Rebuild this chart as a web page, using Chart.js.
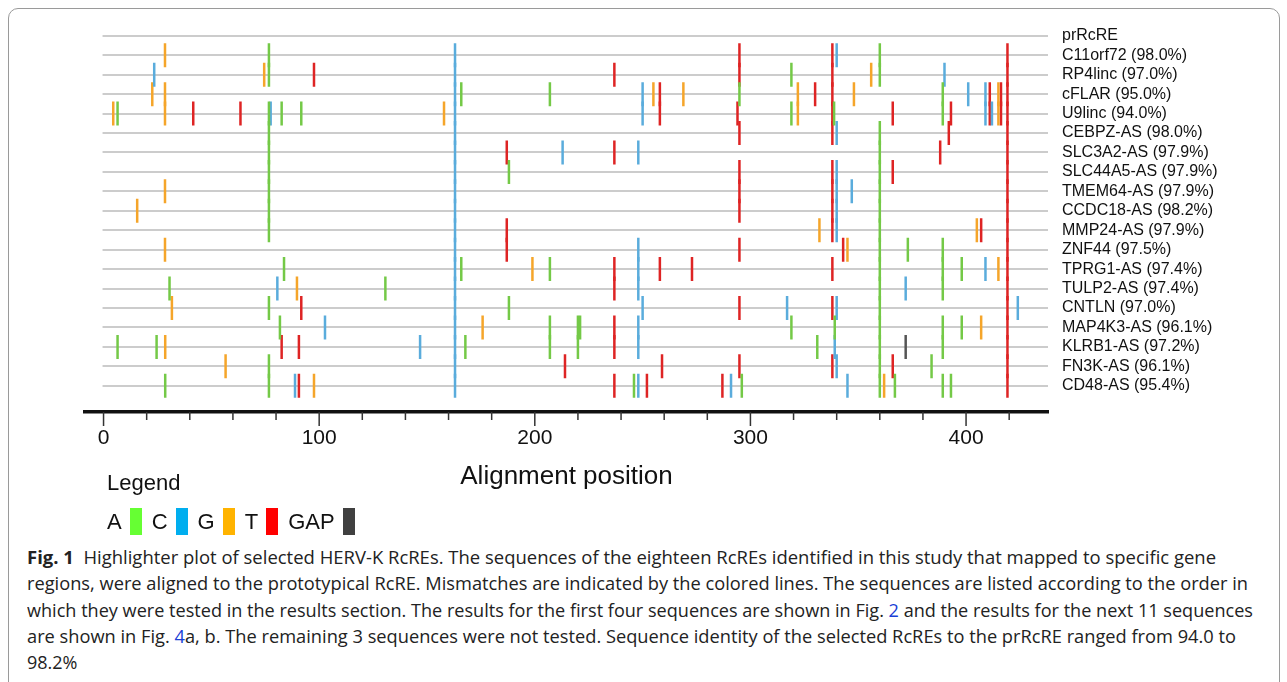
<!DOCTYPE html>
<html>
<head>
<meta charset="utf-8">
<script src="https://cdn.jsdelivr.net/npm/chart.js@4.4.1/dist/chart.umd.min.js"></script>
<style>
  body { margin: 0; background: #fff; width: 1287px; height: 682px; overflow: hidden; position: relative; }
  #frame { position: absolute; left: 8px; top: 8px; width: 1270px; height: 720px; border: 1px solid #9a9a9a; border-radius: 10px; }
  #wrap { position: absolute; left: 0; top: 0; width: 1287px; height: 492px; }
  #legend { position: absolute; left: 107px; top: 470px; font-family: "Liberation Sans", Arial, sans-serif; color: #111; }
  #legend .title { font-size: 22px; height: 30px; }
  #legend .row { display: flex; align-items: center; font-size: 22px; margin-top: 8px; }
  #legend .sw { display: inline-block; width: 12px; height: 27px; margin: 0 10px 0 8px; }
  #caption { position: absolute; left: 27px; top: 544px; font-family: "Open Sans", "Noto Sans", sans-serif; font-size: 18px; color: #222; }
  #caption div { white-space: nowrap; line-height: 26.3px; transform-origin: 0 50%; width: max-content; }
  #caption a { color: #1a3fd6; text-decoration: none; }
</style>
</head>
<body>
<div id="frame"></div>
<div id="wrap"><canvas id="chart" width="1287" height="492"></canvas></div>
<div id="legend">
  <div class="title">Legend</div>
  <div class="row">
    A<span class="sw" style="background:#66ff33"></span>
    C<span class="sw" style="background:#00aeef"></span>
    G<span class="sw" style="background:#ffb300"></span>
    T<span class="sw" style="background:#ff0000"></span>
    GAP<span class="sw" style="background:#404040"></span>
  </div>
</div>
<div id="caption">
  <div data-w="1189"><b>Fig. 1</b>&nbsp;&nbsp;Highlighter plot of selected HERV-K RcREs. The sequences of the eighteen RcREs identified in this study that mapped to specific gene</div>
  <div data-w="1221">regions, were aligned to the prototypical RcRE. Mismatches are indicated by the colored lines. The sequences are listed according to the order in</div>
  <div data-w="1226">which they were tested in the results section. The results for the first four sequences are shown in Fig. <a>2</a> and the results for the next 11 sequences</div>
  <div data-w="1209">are shown in Fig. <a>4</a>a, b. The remaining 3 sequences were not tested. Sequence identity of the selected RcREs to the prRcRE ranged from 94.0 to</div>
  <div>98.2%</div>
</div>
<script>
// sequences, top to bottom (row index = position in this list)
const rowLabels = [
  'prRcRE', 'C11orf72 (98.0%)', 'RP4linc (97.0%)', 'cFLAR (95.0%)', 'U9linc (94.0%)',
  'CEBPZ-AS (98.0%)', 'SLC3A2-AS (97.9%)', 'SLC44A5-AS (97.9%)', 'TMEM64-AS (97.9%)',
  'CCDC18-AS (98.2%)', 'MMP24-AS (97.9%)', 'ZNF44 (97.5%)', 'TPRG1-AS (97.4%)',
  'TULP2-AS (97.4%)', 'CNTLN (97.0%)', 'MAP4K3-AS (96.1%)', 'KLRB1-AS (97.2%)',
  'FN3K-AS (96.1%)', 'CD48-AS (95.4%)'
];

const xTicks = [0, 20, 40, 60, 80, 100, 120, 140, 160, 180, 200, 220, 240, 260, 280, 300, 320, 340, 360, 380, 400, 420];

// mismatches: [alignment position, first row, last row]
const mismatchA = [
  [76.7, 1, 2], [76.7, 4, 10], [6.5, 4, 4], [82.6, 4, 4], [91.7, 4, 4], [165.9, 3, 3], [207, 3, 3],
  [188, 7, 7], [294.9, 3, 3], [319, 2, 2], [319, 4, 4], [338.8, 4, 4], [360, 1, 2], [360, 5, 18],
  [389.2, 3, 4], [83.7, 12, 12], [30.6, 13, 13], [76.7, 14, 14], [81.8, 15, 15], [6.5, 16, 16],
  [24.6, 16, 16], [76.7, 17, 18], [28.6, 18, 18], [165.9, 12, 12], [207, 12, 12], [130.7, 13, 13],
  [188, 14, 14], [207, 15, 16], [167.8, 16, 16], [220, 15, 16], [221, 15, 15], [319, 15, 15],
  [246, 18, 18], [296, 18, 18], [373, 11, 11], [389.2, 11, 13], [389.2, 15, 16], [398, 12, 12],
  [339.1, 15, 15], [398, 15, 15], [331, 16, 16], [384, 17, 17], [367, 18, 18], [389.2, 18, 18],
  [393, 18, 18]
];
const mismatchC = [
  [23.5, 2, 2], [77.5, 4, 4], [163, 1, 18], [212.9, 6, 6], [250, 3, 4], [248, 6, 6], [248, 11, 13],
  [250, 14, 14], [248, 15, 16], [248, 18, 18], [317, 14, 14], [291, 18, 18], [340, 1, 1], [340, 5, 5],
  [340, 7, 10], [340, 14, 14], [339.1, 16, 16], [340, 17, 17], [347, 8, 8], [390, 2, 2], [401, 3, 3],
  [409, 3, 4], [412, 4, 4], [409, 12, 12], [372, 13, 13], [424, 14, 14], [345, 18, 18], [80.6, 13, 13],
  [102.7, 15, 15], [88.8, 18, 18], [146.8, 16, 16]
];
const mismatchG = [
  [28.5, 1, 1], [74.5, 2, 2], [22.6, 3, 3], [28.5, 3, 4], [4.5, 4, 4], [28.5, 8, 8], [15.6, 9, 9],
  [157.9, 4, 4], [255, 3, 3], [268.9, 3, 3], [322, 3, 4], [348, 3, 3], [356, 2, 2], [415, 3, 4],
  [28.5, 11, 11], [31.7, 14, 14], [89.7, 13, 13], [28.6, 16, 16], [56.6, 17, 17], [97.6, 18, 18],
  [198.9, 12, 12], [175.8, 15, 15], [332, 10, 10], [405, 10, 10], [345, 11, 11], [415, 12, 12],
  [407, 15, 15], [362, 18, 18]
];
const mismatchT = [
  [97.6, 2, 2], [41.6, 4, 4], [63.5, 4, 4], [187, 6, 6], [236.9, 2, 2], [258, 3, 4], [294.9, 1, 2],
  [294, 4, 4], [294.9, 5, 5], [294.9, 7, 9], [294.9, 11, 11], [294.9, 14, 14], [294.9, 17, 17],
  [338, 1, 5], [338, 7, 10], [338, 12, 12], [338, 14, 14], [338, 17, 17], [330, 3, 3], [366, 4, 4],
  [366, 7, 7], [393, 4, 4], [392, 5, 5], [388, 6, 6], [411, 3, 4], [416.2, 3, 4], [419.2, 1, 18],
  [236.9, 6, 6], [91.7, 14, 14], [82.6, 16, 16], [90.6, 16, 16], [90.6, 18, 18], [187, 10, 11],
  [214, 17, 17], [236.9, 12, 13], [236.9, 15, 16], [236.9, 18, 18], [258, 12, 12], [272.9, 12, 12],
  [259, 17, 17], [252, 18, 18], [287, 18, 18], [407, 10, 10], [343, 11, 11], [366, 17, 17]
];
const mismatchGap = [[372, 16, 16]];

function expand(list) {
  const pts = [];
  list.forEach(([x, a, b]) => {
    for (let r = a; r <= b; r++) pts.push({ x, y: r });
  });
  return pts;
}

function markSet(label, list, color) {
  return {
    label,
    data: expand(list),
    pointStyle: 'line',
    rotation: 90,
    pointRadius: 12,
    borderWidth: 2.5,
    borderColor: color,
    backgroundColor: color
  };
}

// row lines and axis ticks
const rowLines = {
  id: 'rowLines',
  beforeDatasetsDraw(chart) {
    const { ctx, chartArea, scales: { x, y } } = chart;
    ctx.save();
    ctx.strokeStyle = '#cccccc';
    ctx.lineWidth = 2;
    const x0 = x.getPixelForValue(0) - 1;
    rowLabels.forEach((_, i) => {
      const py = Math.round(y.getPixelForValue(i));
      ctx.beginPath();
      ctx.moveTo(x0, py);
      ctx.lineTo(chartArea.right, py);
      ctx.stroke();
    });
    ctx.restore();
  },
  afterDraw(chart) {
    const { ctx, chartArea, scales: { x } } = chart;
    ctx.save();
    ctx.strokeStyle = '#333';
    ctx.lineWidth = 1.5;
    xTicks.forEach(v => {
      const px = x.getPixelForValue(v);
      const len = v % 100 === 0 ? 14 : 8;
      ctx.beginPath();
      ctx.moveTo(px, chartArea.bottom);
      ctx.lineTo(px, chartArea.bottom + len);
      ctx.stroke();
    });
    ctx.restore();
  }
};

Chart.defaults.font.family = '"Liberation Sans", Arial, sans-serif';
Chart.defaults.color = '#111';

new Chart(document.getElementById('chart'), {
  type: 'scatter',
  data: {
    datasets: [
      markSet('A', mismatchA, '#74c947'),
      markSet('C', mismatchC, '#5aacdc'),
      markSet('G', mismatchG, '#f5a52a'),
      markSet('T', mismatchT, '#de2424'),
      markSet('GAP', mismatchGap, '#555555')
    ]
  },
  options: {
    responsive: false,
    animation: false,
    events: [],
    layout: { padding: { left: 85, top: 18, right: 0, bottom: 0 } },
    plugins: { legend: { display: false }, tooltip: { enabled: false } },
    scales: {
      x: {
        type: 'linear',
        min: -8.6,
        max: 438,
        afterBuildTicks: s => { s.ticks = xTicks.map(v => ({ value: v })); },
        afterFit: s => { s.height = 80; },
        grid: { display: true, drawOnChartArea: false, drawTicks: false },
        border: { display: true, color: '#111', width: 3.5 },
        ticks: {
          padding: 14,
          maxRotation: 0,
          autoSkip: false,
          font: { size: 21 },
          callback: v => (v % 100 === 0 ? v : '')
        },
        title: { display: true, text: 'Alignment position', font: { size: 26 }, padding: 0 }
      },
      y: {
        type: 'linear',
        position: 'right',
        reverse: true,
        min: -0.63,
        max: 19.35,
        afterBuildTicks: s => { s.ticks = rowLabels.map((_, i) => ({ value: i })); },
        afterFit: s => { s.width = 239; },
        grid: { display: false, drawTicks: false },
        border: { display: false },
        ticks: {
          padding: 14,
          autoSkip: false,
          font: { size: 16 },
          callback: v => rowLabels[v]
        }
      }
    }
  },
  plugins: [rowLines]
});

// fit each caption line to its measured width in the figure
document.querySelectorAll('#caption div[data-w]').forEach(el => {
  const w = el.getBoundingClientRect().width;
  el.style.transform = 'scaleX(' + (Number(el.dataset.w) / w) + ')';
});
</script>
</body>
</html>
